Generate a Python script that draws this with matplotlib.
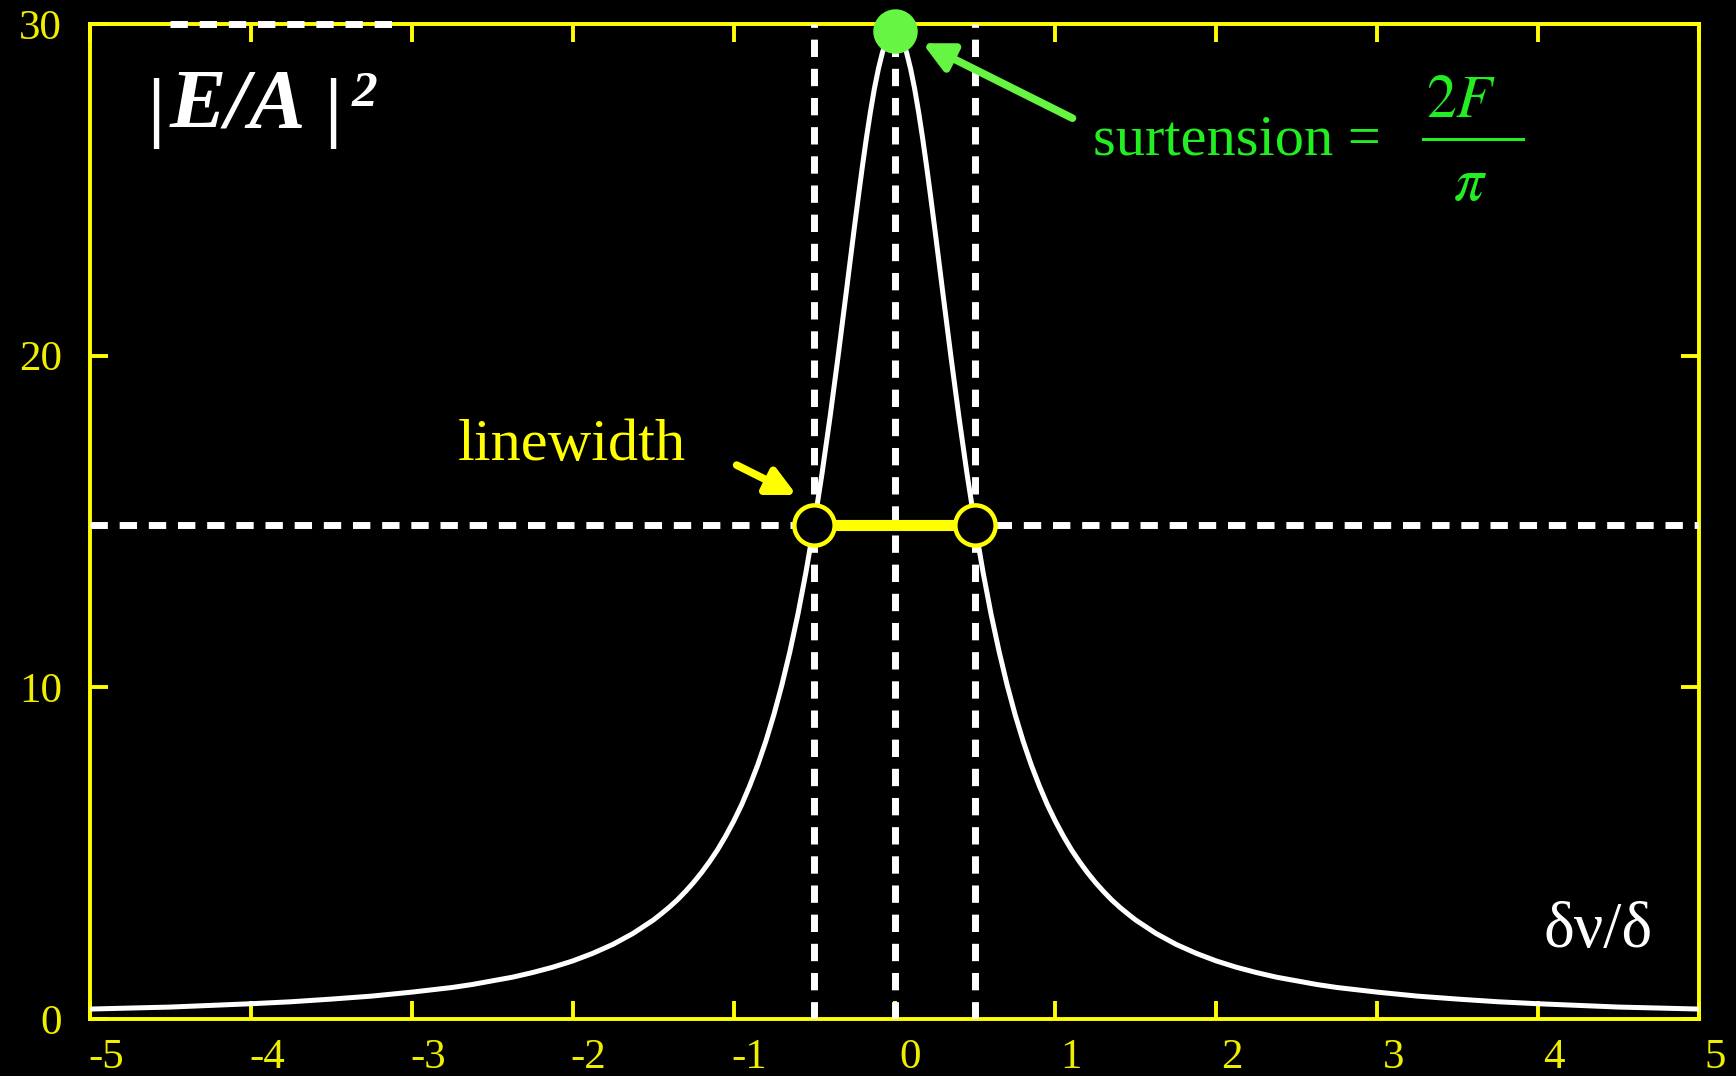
import matplotlib
matplotlib.use('Agg')

import matplotlib.pyplot as plt
import matplotlib.transforms as mtransforms

plt.rcParams['font.family'] = ['Liberation Serif', 'DejaVu Serif']
plt.rcParams['mathtext.fontset'] = 'stix'
plt.rcParams['axes.unicode_minus'] = False
plt.rcParams['lines.scale_dashes'] = False

# cavity intensity |E/A|^2 versus detuning
detuning = [-5.0, -4.75, -4.5, -4.25, -4.0, -3.75, -3.5, -3.25, -3.0, -2.75,
            -2.625, -2.5, -2.375, -2.25, -2.125, -2.0, -1.875, -1.75, -1.625, -1.5,
            -1.45, -1.4, -1.35, -1.3, -1.25, -1.2, -1.15, -1.1, -1.05, -1.0,
            -0.95, -0.9, -0.85, -0.8, -0.75, -0.7, -0.65, -0.6, -0.55, -0.5,
            -0.45, -0.4, -0.35, -0.3, -0.275, -0.25, -0.225, -0.2, -0.175, -0.15,
            -0.125, -0.1, -0.075, -0.05, -0.025,
            0.0,
            0.025, 0.05, 0.075, 0.1, 0.125,
            0.15, 0.175, 0.2, 0.225, 0.25, 0.275, 0.3, 0.35, 0.4, 0.45,
            0.5, 0.55, 0.6, 0.65, 0.7, 0.75, 0.8, 0.85, 0.9, 0.95,
            1.0, 1.05, 1.1, 1.15, 1.2, 1.25, 1.3, 1.35, 1.4, 1.45,
            1.5, 1.625, 1.75, 1.875, 2.0, 2.125, 2.25, 2.375, 2.5, 2.625,
            2.75, 3.0, 3.25, 3.5, 3.75, 4.0, 4.25, 4.5, 4.75, 5.0]
intensity = [0.30, 0.33, 0.36, 0.41, 0.46, 0.52, 0.60, 0.69, 0.81, 0.95,
             1.04, 1.15, 1.26, 1.40, 1.56, 1.75, 1.98, 2.25, 2.58, 2.98,
             3.17, 3.37, 3.59, 3.84, 4.11, 4.41, 4.74, 5.10, 5.51, 5.96,
             6.46, 7.03, 7.66, 8.37, 9.17, 10.07, 11.08, 12.21, 13.48, 14.90,
             16.46, 18.17, 20.00, 21.91, 22.88, 23.84, 24.78, 25.69, 26.55, 27.34,
             28.05, 28.65, 29.14, 29.50, 29.73,
             29.80,
             29.73, 29.50, 29.14, 28.65, 28.05,
             27.34, 26.55, 25.69, 24.78, 23.84, 22.88, 21.91, 20.00, 18.17, 16.46,
             14.90, 13.48, 12.21, 11.08, 10.07, 9.17, 8.37, 7.66, 7.03, 6.46,
             5.96, 5.51, 5.10, 4.74, 4.41, 4.11, 3.84, 3.59, 3.37, 3.17,
             2.98, 2.58, 2.25, 1.98, 1.75, 1.56, 1.40, 1.26, 1.15, 1.04,
             0.95, 0.81, 0.69, 0.60, 0.52, 0.46, 0.41, 0.36, 0.33, 0.30]

peak_x = 0.0
peak_y = 29.8
half_x = [-0.5, 0.5]
half_y = 14.9

x_ticks = [-5, -4, -3, -2, -1, 0, 1, 2, 3, 4, 5]
y_ticks = [0, 10, 20, 30]

YELLOW = '#ffff00'
LABEL_YELLOW = '#eeee00'
GREEN_MARK = '#66f542'
GREEN_TEXT = '#22ee22'

W, H = 1736, 1076
fig = plt.figure(figsize=(W / 100, H / 100), dpi=100, facecolor='black')
ax = fig.add_axes([90 / W, 1 - 1019 / H, 1609 / W, 995 / H], facecolor='black')


def px(x, y):
    # pixel position (from top-left) to figure fraction
    return x / W, 1 - y / H


dash = dict(color='white', lw=5, linestyle=(0, (12.5, 8.5)), zorder=3)
ax.axhline(half_y, **dash)
for xv in half_x + [peak_x]:
    ax.axvline(xv, **dash)
ax.hlines(30, -4.5, -3.09, clip_on=False, **dash)

ax.plot(detuning, intensity, color='white', lw=3.6, zorder=4,
        solid_capstyle='round', solid_joinstyle='round')

# linewidth bar and half-maximum points
ax.plot(half_x, [half_y, half_y], color=YELLOW, lw=8, zorder=5, solid_capstyle='butt')
ax.plot(half_x, [half_y, half_y], 'o', ms=29, mew=3.2, mec=YELLOW, mfc='black', zorder=6)
ax.plot([peak_x], [peak_y], 'o', ms=32, mew=0, color=GREEN_MARK, zorder=7, clip_on=False)

ax.annotate('', xy=(0.174, 29.42), xytext=(1.106, 27.16),
            arrowprops=dict(arrowstyle='-|>', color=GREEN_MARK, lw=5.5,
                            mutation_scale=44, shrinkA=0, shrinkB=0), zorder=7)
ax.annotate('', xy=(-0.609, 15.80), xytext=(-0.981, 16.70),
            arrowprops=dict(arrowstyle='-|>', color=YELLOW, lw=5.5,
                            mutation_scale=42, shrinkA=0, shrinkB=0), zorder=7)

ax.set_xlim(-5, 5)
ax.set_ylim(0, 30)
ax.set_xticks(x_ticks)
ax.set_xticklabels([str(t) for t in x_ticks])
ax.set_yticks(y_ticks)
ax.set_yticklabels([str(t) for t in y_ticks])

for side in ax.spines.values():
    side.set_color(YELLOW)
    side.set_linewidth(2.8)
ax.tick_params(direction='in', length=13, width=2.8, color=YELLOW,
               top=True, right=True, labelcolor=LABEL_YELLOW, labelsize=31)
ax.tick_params(axis='x', pad=14)
ax.tick_params(axis='y', pad=20)

shift = mtransforms.ScaledTranslation(0.16, 0, fig.dpi_scale_trans)
for lab in ax.get_xticklabels():
    lab.set_transform(lab.get_transform() + shift)

# |E/A|^2
fig.text(*px(147, 132), '|', color='white', fontsize=56, fontweight='bold', va='baseline')
fig.text(*px(170, 128), 'E/A', color='white', fontsize=61, fontweight='bold',
         fontstyle='italic', va='baseline')
fig.text(*px(324, 132), '|', color='white', fontsize=56, fontweight='bold', va='baseline')
fig.text(*px(352, 106), '2', color='white', fontsize=37, fontweight='bold',
         fontstyle='italic', va='baseline')

# surtension = 2F / pi
fig.text(*px(1093, 155), 'surtension =', color=GREEN_TEXT, fontsize=42, va='baseline')
fig.text(*px(1461, 117), '$2F$', color=GREEN_TEXT, fontsize=43, ha='center', va='baseline')
fig.add_artist(plt.Line2D([1423 / W, 1523 / W], [1 - 139 / H, 1 - 139 / H],
                          color=GREEN_TEXT, lw=2.2))
fig.text(*px(1470, 200), r'$\pi$', color=GREEN_TEXT, fontsize=43, ha='center', va='baseline')

fig.text(*px(458, 460), 'linewidth', color=YELLOW, fontsize=43.5, va='baseline')
fig.text(*px(1544, 947), 'δν/δ', color='white', fontsize=47, va='baseline')

fig.savefig('out.png', dpi=100, facecolor='black')
plt.close(fig)
